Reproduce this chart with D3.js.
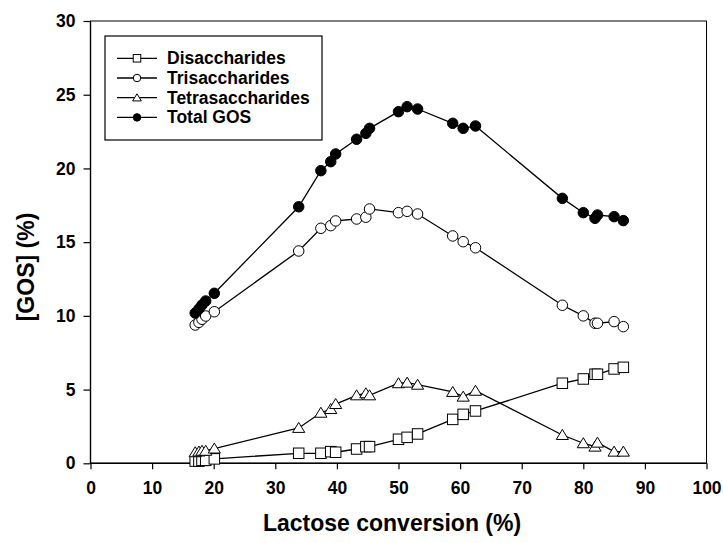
<!DOCTYPE html>
<html>
<head>
<meta charset="utf-8">
<script src="https://cdn.jsdelivr.net/npm/d3@7/dist/d3.min.js"></script>
<style>
  body { margin: 0; background: #fff; }
  text { font-family: "Liberation Sans", Arial, sans-serif; font-weight: bold; fill: #000; }
</style>
</head>
<body>
<svg id="chart" width="723" height="543"></svg>
<script>
// lactose conversion (%), shared by all series
var conversion = [17.0, 17.6, 18.1, 18.7, 20.1, 33.8, 37.4, 39.0, 39.8, 43.2, 44.7, 45.3,
                  50.0, 51.4, 53.1, 58.8, 60.5, 62.5, 76.6, 80.0, 81.9, 82.3, 85.0, 86.5];

var disaccharides = [0.15, 0.15, 0.2, 0.2, 0.3, 0.68, 0.68, 0.79, 0.75, 0.97, 1.13, 1.13,
                     1.63, 1.76, 1.99, 2.98, 3.32, 3.55, 5.43, 5.72, 6.04, 6.04, 6.40, 6.51];
var trisaccharides = [9.38, 9.56, 9.77, 9.99, 10.28, 14.40, 15.94, 16.12, 16.44, 16.57, 16.69, 17.25,
                      17.0, 17.09, 16.91, 15.42, 15.03, 14.62, 10.72, 10.0, 9.50, 9.50, 9.61, 9.27];
var tetrasaccharides = [0.75, 0.8, 0.85, 0.85, 1.0, 2.4, 3.43, 3.68, 4.02, 4.61, 4.75, 4.61,
                        5.43, 5.47, 5.33, 4.84, 4.52, 4.92, 1.92, 1.36, 1.13, 1.40, 0.79, 0.79];
var totalGOS = [10.19, 10.47, 10.74, 11.01, 11.53, 17.40, 19.85, 20.46, 20.98, 21.98, 22.38, 22.72,
                23.85, 24.19, 24.03, 23.06, 22.72, 22.88, 17.97, 17.00, 16.62, 16.84, 16.73, 16.46];

var seriesNames = ["Disaccharides", "Trisaccharides", "Tetrasaccharides", "Total GOS"];
var seriesSymbols = ["square", "circle", "triangle", "dot"];

var xTicks = [0, 10, 20, 30, 40, 50, 60, 70, 80, 90, 100];
var yTicks = [0, 5, 10, 15, 20, 25, 30];

var svg = d3.select("#chart");

var x = d3.scaleLinear().domain([0, 100]).range([90.5, 706.5]);
var y = d3.scaleLinear().domain([0, 30]).range([463.3, 21]);

// frame (top/right are thin, left/bottom axes a bit heavier)
svg.append("rect")
  .attr("x", x(0)).attr("y", y(30))
  .attr("width", x(100) - x(0)).attr("height", y(0) - y(30))
  .attr("fill", "none").attr("stroke", "#000").attr("stroke-width", 1);
svg.append("path")
  .attr("d", "M" + x(0) + "," + y(30) + "V" + y(0) + "H" + x(100))
  .attr("fill", "none").attr("stroke", "#000").attr("stroke-width", 1.4);

// minor ticks
var gx = svg.append("g").attr("transform", "translate(0," + y(0) + ")");
gx.call(d3.axisBottom(x).tickValues(d3.range(5, 100, 10)).tickSize(3).tickFormat(""))
  .select(".domain").remove();
gx.call(d3.axisBottom(x).tickValues(xTicks).tickSize(6).tickPadding(12).tickSizeOuter(0))
  .selectAll(".domain").remove();
gx.selectAll("text").attr("font-size", 17.5).attr("font-family", null);
gx.selectAll("line").attr("stroke-width", 1.2);

var gy = svg.append("g").attr("transform", "translate(" + x(0) + ",0)");
gy.call(d3.axisLeft(y).tickValues(d3.range(2.5, 30, 5)).tickSize(4).tickFormat(""))
  .select(".domain").remove();
gy.call(d3.axisLeft(y).tickValues(yTicks).tickSize(7).tickPadding(8).tickSizeOuter(0))
  .selectAll(".domain").remove();
gy.selectAll("text").attr("font-size", 17.5).attr("font-family", null);
gy.selectAll("line").attr("stroke-width", 1.2);

// axis titles
svg.append("text")
  .attr("x", 392).attr("y", 531)
  .attr("text-anchor", "middle").attr("font-size", 23)
  .text("Lactose conversion (%)");
svg.append("text")
  .attr("transform", "translate(34,267) rotate(-90)")
  .attr("text-anchor", "middle").attr("font-size", 23)
  .text("[GOS] (%)");

function drawSymbol(g, kind, cx, cy, s) {
  if (kind == "square") {
    g.append("rect").attr("x", cx - s / 2).attr("y", cy - s / 2)
      .attr("width", s).attr("height", s)
      .attr("fill", "#fff").attr("stroke", "#000").attr("stroke-width", 1);
  }
  else if (kind == "circle") {
    g.append("circle").attr("cx", cx).attr("cy", cy).attr("r", s / 2)
      .attr("fill", "#fff").attr("stroke", "#000").attr("stroke-width", 1);
  }
  else if (kind == "triangle") {
    var h = s * 0.95;
    g.append("path")
      .attr("d", "M" + cx + "," + (cy - h * 0.55) + "L" + (cx + s * 0.58) + "," + (cy + h * 0.45) +
                 "L" + (cx - s * 0.58) + "," + (cy + h * 0.45) + "Z")
      .attr("fill", "#fff").attr("stroke", "#000").attr("stroke-width", 1);
  }
  else {
    g.append("circle").attr("cx", cx).attr("cy", cy).attr("r", s / 2)
      .attr("fill", "#000").attr("stroke", "#000").attr("stroke-width", 1);
  }
}

var allSeries = [disaccharides, trisaccharides, tetrasaccharides, totalGOS];
var line = d3.line().x(function(d) { return x(d[0]); }).y(function(d) { return y(d[1]); });

allSeries.forEach(function(vals, i) {
  var pts = conversion.map(function(c, j) { return [c, vals[j]]; });
  var g = svg.append("g");
  g.append("path").attr("d", line(pts))
    .attr("fill", "none").attr("stroke", "#000").attr("stroke-width", 1.3);
  pts.forEach(function(p) {
    drawSymbol(g, seriesSymbols[i], x(p[0]), y(p[1]), 10.5);
  });
});

// legend
var lg = svg.append("g");
lg.append("rect").attr("x", 105).attr("y", 36).attr("width", 217).attr("height", 104)
  .attr("fill", "#fff").attr("stroke", "#000").attr("stroke-width", 1.2);
seriesNames.forEach(function(name, i) {
  var cy = 58.3 + i * 19.7;
  lg.append("line").attr("x1", 117).attr("x2", 157).attr("y1", cy).attr("y2", cy)
    .attr("stroke", "#000").attr("stroke-width", 1.3);
  drawSymbol(lg, seriesSymbols[i], 137, cy, 7.5);
  lg.append("text").attr("x", 167).attr("y", cy + 6).attr("font-size", 17.5).text(name);
});
</script>
</body>
</html>
